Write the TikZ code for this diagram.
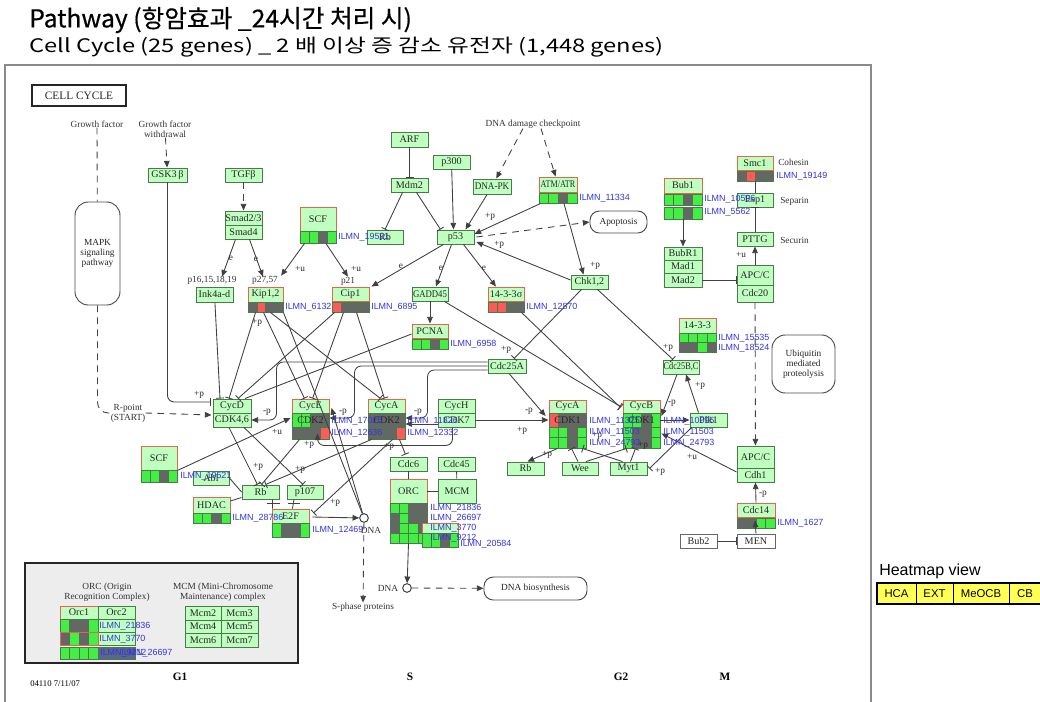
\documentclass[tikz,border=0pt]{standalone}
\usepackage{fontspec}
\setmainfont{Liberation Serif}
\newfontfamily\ilfont{Liberation Sans}
\newfontfamily\krfont{Noto Sans CJK KR}
\newfontfamily\krheavy[FakeBold=0.5]{Noto Sans CJK KR}
\usetikzlibrary{calc,arrows.meta}

\definecolor{kgfill}{HTML}{BFFFBF}
\definecolor{kgline}{HTML}{4A7A4A}
\definecolor{kgred}{HTML}{E2654F}
\definecolor{cg}{HTML}{44EE44}
\definecolor{cd}{HTML}{666666}
\definecolor{cr}{HTML}{FF5A5A}
\definecolor{cs}{HTML}{5C6490}
\definecolor{ilblue}{HTML}{3434E0}
\definecolor{conn}{HTML}{404040}
\definecolor{hmyellow}{HTML}{FFFF55}
\definecolor{framegray}{HTML}{8A8A8A}

\newcommand\kbf{\fontsize{7.6}{8}\selectfont}
\newcommand\lbf{\fontsize{7}{7.6}\selectfont}
\newcommand\ilf{\ilfont\fontsize{6.7}{7}\selectfont}
\newcommand\kgsq[2][0.86]{\scalebox{#1}[1]{#2}}

% gene box from its corners (x1,y1)-(x2,y2), pixel units, y downwards
\newcommand\kgbox[7][]{\node[kb,minimum width={(#5-#3)*0.75pt},minimum height={(#6-#4)*0.75pt},#1] (#2) at ({(#3+#5)/2},{(#4+#6)/2}) {#7};}
% row of four expression cells
\newcommand\kgcells[5]{\foreach \gc [count=\gi from 0] in {#5}{\filldraw[fill=\gc,draw=kgline,line width=0.35pt] ({#1+\gi*(#3-#1)/4},#2) rectangle ({#1+(\gi+1)*(#3-#1)/4},#4);}}
\newcounter{kgn}
\newcommand\kglab[2]{\stepcounter{kgn}\node[lb] (lb\number\value{kgn}) at (#1) {#2};}
\newcommand\kgil[2]{\stepcounter{kgn}\node[il] (il\number\value{kgn}) at (#1) {#2};}

\begin{document}
\begin{tikzpicture}[x=0.75pt,y=-0.75pt,
  kb/.style={draw=kgline,fill=kgfill,line width=0.7pt,inner sep=0pt,font=\kbf,text=black!85},
  hb/.style={kb,draw=kgred},
  wb/.style={kb,fill=white,draw=black!60},
  rb/.style={draw=black!70,line width=0.7pt,rounded corners=7pt,fill=white,inner sep=0pt,font=\lbf,align=center},
  tx/.style={inner sep=0pt,font=\lbf,align=center,text=black!80},
  lb/.style={inner sep=0pt,font=\lbf,text=black!85},
  il/.style={inner sep=0pt,font=\ilf,text=ilblue,anchor=west},
  hm/.style={draw=black,fill=hmyellow,line width=0.5pt,font=\ilfont\fontsize{8.5}{9}\selectfont,text=black},
  cn/.style={draw=conn,line width=0.65pt},
  ar/.style={cn,-{Triangle[length=5pt,width=4.2pt]}},
  dl/.style={cn,dash pattern=on 5pt off 4pt},
  dar/.style={ar,dash pattern=on 5pt off 4pt},
  inh/.style={cn,-{Bar[width=6pt]}}]

\useasboundingbox (0,0) rectangle (1040,701);
\fill[white] (0,0) rectangle (1040,701);

% ---------- headings ----------
\node[anchor=west,inner sep=0] (ttl) at (29,20) {\krheavy\fontsize{18.5}{20}\selectfont Pathway (항암효과 \_24시간 처리 시)};
\node[anchor=west,inner sep=0] (sttl) at (29,47) {\scalebox{1.27}[1]{\krfont\fontsize{14}{16}\selectfont Cell Cycle (25 genes) \_ 2 배 이상 증 감소 유전자 (1,448 genes)}};
\draw[framegray,line width=0.8pt] (5,702) -- (5,65) -- (871,65) -- (871,702);

% ---------- map frame items ----------
\kgbox[wb,draw=black!85,line width=1.4pt,font=\fontsize{8.5}{9}\selectfont]{cellc}{32}{85}{126}{106}{CELL CYCLE}
\kgbox[rb,rounded corners=10pt]{mapk}{75}{202}{120}{305}{MAPK\\signaling\\pathway}

\node[tx] (gf) at (97,124) {Growth factor};
\node[tx] (gfw) at (165,129) {Growth factor\\withdrawal};
\node[tx] (ddc) at (533,124) {DNA damage checkpoint};
\node[tx] (p16t) at (212,280) {p16,15,18,19};
\node[tx] (p27t) at (265,280) {p27,57};
\node[tx] (p21t) at (348,281) {p21};
\node[tx,anchor=west] (cohn) at (778,162) {Cohesin};
\node[tx,anchor=west] (sepn) at (780,201) {Separin};
\node[tx,anchor=west] (secn) at (780,240) {Securin};
\node[tx] (rpt) at (128,413) {R-point\\(START)};
\node[tx] (sph) at (363,607) {S-phase proteins};

% ---------- G1 ----------
\kgbox{gsk}{148}{168}{187}{182}{GSK3\,β}
\kgbox{tgf}{225}{168}{262}{182}{TGFβ}
\kgbox{smad23}{225}{211}{262}{225}{Smad2/3}
\kgbox{smad4}{225}{225}{262}{239}{Smad4}
\kgbox{ink}{196}{287}{233}{302}{Ink4a-d}
\kgbox[hb]{kip}{248}{287}{283}{302}{Kip1,2}
\kgcells{248}{302}{283}{312}{cd,cr,cd,cd}
\kgbox[hb]{scf1}{300}{207}{336}{231}{SCF}
\kgcells{300}{231}{336}{243}{cg,cg,cd,cg}
\kgbox{rb1}{367}{230}{403}{244}{Rb}
\kgbox{cycd}{213}{399}{251}{413}{CycD}
\kgbox{cdk46}{213}{413}{251}{427}{CDK4,6}
\kgbox[hb]{scf2}{141}{446}{177}{470}{SCF}
\kgcells{141}{470}{177}{482}{cg,cg,cd,cg}
\kgbox{abl}{193}{471}{229}{485}{Abl}
\kgbox{rb3}{242}{485}{279}{499}{Rb}
\kgbox{p107}{287}{485}{323}{499}{p107}
\kgbox[hb]{hdac}{193}{497}{230}{513}{HDAC}
\kgcells{193}{513}{230}{523}{cg,cg,cd,cg}
\kgbox[hb]{e2f}{272}{509}{309}{523}{E2F}
\kgcells{272}{523}{309}{537}{cg,cd,cd,cg}

% ---------- p53 module ----------
\kgbox{arf}{391}{132}{428}{147}{ARF}
\kgbox{mdm2}{391}{178}{428}{192}{Mdm2}
\kgbox{p300}{433}{155}{470}{169}{p300}
\kgbox{dnapk}{473}{179}{511}{194}{\kgsq[0.9]{DNA-PK}}
\kgbox[hb]{atm}{539}{177}{577}{192}{\kgsq[0.8]{ATM/ATR}}
\kgcells{539}{193}{577}{203}{cg,cg,cd,cg}
\kgbox{p53}{437}{230}{474}{244}{p53}
\kgbox[rb]{apop}{590}{211}{647}{233}{Apoptosis}
\kgbox{chk}{571}{275}{608}{289}{Chk1,2}
\kgbox[hb]{cip1}{332}{287}{369}{301}{Cip1}
\kgcells{332}{302}{369}{312}{cr,cd,cd,cd}
\kgbox{gadd}{412}{287}{448}{301}{\kgsq{GADD45}}
\kgbox[hb]{s1433}{488}{287}{524}{301}{14-3-3σ}
\kgcells{488}{302}{524}{312}{cr,cr,cd,cd}
\kgbox[hb]{pcna}{412}{324}{448}{338}{PCNA}
\kgcells{412}{339}{448}{349}{cg,cg,cd,cg}
\kgbox{cdc25a}{488}{359}{526}{373}{Cdc25A}

% ---------- S ----------
\kgbox[hb]{cyce}{292}{399}{329}{413}{CycE}
\kgcells{292}{413}{329}{427}{cg,cg,cd,cd}
\kgbox[fill=none]{cdk2e}{292}{413}{329}{427}{CDK2}
\kgcells{292}{427}{329}{439}{cd,cd,cd,cr}
\kgbox[hb]{cyca1}{368}{399}{405}{413}{CycA}
\kgcells{368}{413}{405}{427}{cd,cd,cd,cd}
\kgbox[fill=none]{cdk2a}{368}{413}{405}{427}{CDK2}
\kgcells{368}{427}{405}{439}{cd,cd,cd,cr}
\kgbox{cych}{438}{399}{475}{413}{CycH}
\kgbox{cdk7}{438}{413}{475}{427}{CDK7}
\kgbox{cdc6}{390}{457}{427}{471}{Cdc6}
\kgbox{cdc45}{438}{457}{475}{471}{Cdc45}
\kgbox[hb]{orc}{390}{479}{427}{503}{ORC}
\kgbox{mcm}{438}{479}{476}{503}{MCM}
\kgcells{390}{503}{427}{513}{cg,cg,cd,cd}
\kgcells{390}{513}{427}{523}{cd,cg,cd,cd}
\kgcells{390}{523}{427}{533}{cd,cg,cg,cd}
\kgcells{390}{533}{427}{543}{cg,cg,cg,cg}
\filldraw[fill=kgfill,draw=kgred,line width=0.5pt] (422,523) rectangle (458,533);
\kgcells{422}{533}{458}{547}{cg,cg,cd,cg}
\node[circle,draw=black!80,line width=0.7pt,minimum size=6.5pt,inner sep=0pt,fill=white] (dna1) at (364,518) {};
\node[tx] (dna1t) at (371,530) {DNA};
\node[circle,draw=black!80,line width=0.7pt,minimum size=6.5pt,inner sep=0pt,fill=white] (dna2) at (407,588) {};
\node[tx] (dna2t) at (388,588) {DNA};
\kgbox[rb]{dnab}{484}{577}{587}{600}{DNA biosynthesis}

% ---------- G2 ----------
\kgbox[hb]{cyca2}{549}{400}{586}{413}{CycA}
\kgcells{549}{413}{586}{427}{cr,cd,cd,cd}
\kgbox[fill=none]{cdk1a}{549}{413}{586}{427}{CDK1}
\kgcells{549}{427}{586}{437.5}{cg,cg,cd,cg}
\kgcells{549}{437.5}{586}{448}{cg,cg,cd,cg}
\kgbox[hb]{cycb}{623}{400}{660}{413}{CycB}
\kgcells{623}{413}{660}{427}{cg,cg,cd,cg}
\kgbox[fill=none]{cdk1b}{623}{413}{660}{427}{CDK1}
\kgcells{623}{427}{660}{437.5}{cg,cd,cd,cg}
\kgcells{623}{437.5}{660}{448}{cg,cd,cd,cg}
\kgbox{plk1}{690}{413}{727}{427}{Plk1}
\kgbox{rb2}{507}{462}{544}{475}{Rb}
\kgbox{wee}{562}{462}{598}{475}{Wee}
\kgbox{myt1}{610}{462}{647}{475}{Myt1}
\kgbox[hb]{y1433}{679}{318}{716}{333}{14-3-3}
\kgcells{679}{333}{716}{342.5}{cg,cg,cg,cg}
\kgcells{679}{342.5}{716}{352}{cd,cd,cg,cd}
\kgbox{cdc25bc}{663}{360}{699}{374}{\kgsq[0.82]{Cdc25B,C}}

% ---------- M ----------
\kgbox[hb]{bub1}{664}{178}{702}{193}{Bub1}
\kgcells{664}{194}{702}{205.5}{cg,cg,cd,cg}
\kgcells{664}{207}{702}{219}{cg,cg,cd,cg}
\kgbox{bubr1}{664}{247}{702}{260}{BubR1}
\kgbox{mad1}{664}{260}{702}{273}{Mad1}
\kgbox{mad2}{664}{273}{702}{287}{Mad2}
\kgbox[hb]{smc1}{737}{156}{773}{170}{Smc1}
\kgcells{737}{171}{773}{181}{cd,cr,cd,cd}
\kgbox{esp1}{737}{193}{773}{207}{Esp1}
\kgbox{pttg}{737}{232}{773}{246}{PTTG}
\kgbox{apcc1}{737}{265}{773}{285}{APC/C}
\kgbox{cdc20}{737}{285}{773}{302}{Cdc20}
\kgbox[rb,rounded corners=10pt]{ubiq}{772}{335}{835}{393}{Ubiquitin\\mediated\\proteolysis}
\kgbox{apcc2}{737}{446}{774}{468}{APC/C}
\kgbox{cdh1}{737}{468}{774}{482}{Cdh1}
\kgbox[hb]{cdc14}{737}{503}{775}{517}{Cdc14}
\kgcells{737}{518}{775}{528}{cd,cd,cg,cg}
\kgbox[wb]{men}{737}{534}{775}{548}{MEN}
\kgbox[wb]{bub2}{680}{534}{717}{548}{Bub2}

% ---------- connectors ----------
\draw[dl] (gf) -- (mapk);
\draw[dar] (gfw) -- (gsk);
\draw[inh,rounded corners=5] (gsk.south) |- ($(cycd.west)+(-2,-4)$);
\draw[dl,rounded corners=8] (mapk.south) |- (rpt.west);
\draw[dar] (rpt.east) -- ($(cdk46.west)+(-1,-5)$);
\draw[dar] (tgf) -- (smad23);
\draw[ar] ($(smad4.south)+(-8,0)$) -- ($(p16t.north)+(10,1)$);
\draw[ar] ($(smad4.south)+(6,0)$) -- ($(p27t.north)+(-2,1)$);
\draw[ar] ($(scf1.south west)+(5,12)$) -- ($(p27t.north east)+(3,0)$);
\draw[ar] ($(scf1.south)+(8,12)$) -- (p21t.north);

\draw[inh] (arf) -- (mdm2);
\draw[inh] ($(mdm2.south)+(-7,0)$) -- (rb1.north);
\draw[inh] ($(mdm2.south)+(7,0)$) -- ($(p53.north west)+(4,0)$);
\draw[ar] (p300) -- ($(p53.north)+(-2,0)$);
\draw[ar] (dnapk) -- ($(p53.north)+(10,0)$);
\draw[dar] ($(ddc.south)+(-10,0)$) -- (dnapk);
\draw[dar] ($(ddc.south)+(8,0)$) -- (atm);
\draw[ar] ($(atm.south west)+(2,11)$) -- ($(p53.east)+(0,-3)$);
\draw[dar] ($(p53.east)+(2,0)$) -- (apop.west);
\draw[ar] ($(chk.west)+(0,-2)$) -- ($(p53.east)+(2,5)$);
\draw[ar] ($(atm.south)+(6,11)$) -- ($(chk.north)+(-6,0)$);
\draw[ar] ($(p53.south)+(-12,0)$) -- ($(cip1.north east)+(2,0)$);
\draw[ar] ($(p53.south)+(-4,0)$) -- ($(gadd.north)+(6,0)$);
\draw[ar] ($(p53.south)+(8,0)$) -- ($(s1433.north)+(-10,0)$);
\draw[ar] (gadd) -- (pcna);
\draw[inh] ($(chk.south)+(-8,0)$) -- ($(cdc25a.north)+(7,0)$);
\draw[inh] ($(chk.south)+(8,0)$) -- ($(cdc25bc.north)+(-8,0)$);
\draw[inh] ($(gadd.south east)+(-4,0)$) -- ($(cycb.west)+(-2,0)$);
\draw[inh] ($(s1433.south east)+(-3,11)$) -- ($(cycb.west)+(-2,1)$);

\draw[cn] ($(pcna.west)+(0,3)$) -- ($(cycd.north)+(13,0)$);
\draw[inh] (ink) -- ($(cycd.north)+(-12,0)$);
\draw[inh] ($(kip.south)+(-10,10)$) -- ($(cycd.north)+(-3,0)$);
\draw[inh] ($(cip1.south west)+(3,11)$) -- ($(cycd.north)+(6,0)$);
\draw[inh] ($(kip.south)+(-2,10)$) -- ($(cyce.north)+(-6,0)$);
\draw[inh] ($(kip.south)+(5,10)$) -- ($(cyca1.north)+(-6,0)$);
\draw[inh] ($(cip1.south)+(-7,11)$) -- ($(cyce.north)+(2,0)$);
\draw[inh] ($(cip1.south)+(6,11)$) -- ($(cyca1.north)+(-2,0)$);
\draw[cn] ($(kip.south east)+(0,10)$) -- (dna1);

\draw[ar,rounded corners=5] ($(cdc25a.west)+(0,-4)$) -- ($(cdc25a.west)+(-211,-4)$) |- (cdk46.east);
\draw[ar,rounded corners=5] (cdc25a.west) -- ($(cdc25a.west)+(-133,0)$) |- ($(cdk2e.east)+(0,-2)$);
\draw[ar,rounded corners=5] ($(cdc25a.west)+(0,4)$) -- ($(cdc25a.west)+(-60,4)$) |- ($(cdk2a.east)+(0,-2)$);
\draw[ar] ($(cdc25a.south)+(2,0)$) -- ($(cdk1a.west)+(-3,-4)$);
\draw[ar] (cdk7.east) -- (cdk1a.west);
\draw[ar] ($(cdk7.west)+(0,4)$) -- ($(cdk2a.east)+(0,4)$);
\draw[ar,rounded corners=5] ($(cdk7.south)+(-4,0)$) -- ++(0,18) -| ($(cdk2e.south west)+(26,6)$);

\draw[ar] (scf2.south east) -- ($(cdk2e.west)+(-1,-2)$);
\draw[inh] ($(cdk46.south)+(-3,0)$) -- ($(rb3.north)+(-3,0)$);
\draw[inh] ($(cdk46.south)+(12,0)$) -- ($(p107.north)+(-2,0)$);
\draw[inh] ($(cdk2e.south west)+(8,12)$) -- ($(rb3.north)+(1,0)$);
\draw[inh] ($(cdk2a.south west)+(4,12)$) -- ($(rb3.north)+(5,0)$);
\draw[cn] (abl.east) -- (rb3.west);
\draw[cn] ($(hdac.east)+(0,-4)$) -- ($(rb3.south west)+(0,-2)$);
\draw[cn] ($(rb3.south)+(12,0)$) -- ($(e2f.north west)+(1,0)$);
\draw[cn] ($(rb3.south)+(6,4)$) -- ++(13,0);
\draw[cn] ($(p107.south)+(-11,0)$) -- ($(e2f.north)+(2,0)$);
\draw[cn] ($(p107.south)+(-17,4)$) -- ++(12,0);
\draw[inh] ($(cdk2a.south)+(6,12)$) -- ($(e2f.east)+(4,-3)$);
\draw[ar] ($(e2f.east)+(3,1)$) -- (dna1);
\draw[ar] (dna1) -- ($(cyce.east)+(2,2)$);
\draw[dar] (dna1) -- (sph);
\draw[inh] ($(cdk2a.south east)+(-6,12)$) -- ($(cdc6.north)+(-3,-2)$);
\draw[cn] (cdc6) -- (orc);
\draw[cn] (cdc45) -- (mcm);
\draw[cn] (orc) -- (mcm);
\draw[ar] ($(orc.south)+(0,40)$) -- (dna2);
\draw[dar] (dna2) -- (dnab);

\draw[ar] ($(cdk1a.south west)+(9,21)$) -- ($(rb2.north)+(2,0)$);
\draw[inh] ($(wee.north)+(-2,0)$) -- ($(cdk1a.south)+(4,21)$);
\draw[inh] ($(wee.north)+(6,0)$) -- ($(cdk1b.south west)+(4,21)$);
\draw[inh] ($(myt1.north)+(-6,0)$) -- ($(cdk1a.south east)+(-4,21)$);
\draw[inh] ($(myt1.north)+(2,0)$) -- ($(cdk1b.south)+(-6,21)$);
\draw[ar] ($(cdc25bc.south)+(-4,0)$) -- ($(cdk1b.east)+(1,-4)$);
\draw[ar] ($(plk1.north)+(-10,0)$) -- ($(cdc25bc.south)+(5,0)$);
\draw[inh] ($(plk1.south west)+(2,0)$) -- ($(myt1.east)+(2,0)$);
\draw[ar] ($(cdh1.west)+(0,-3)$) -- ($(cdk1b.south east)+(1,6)$);
\draw[ar] (cdk1b.east) -- (plk1.west);

\draw[ar] ($(bub1.south)+(0,26)$) -- (bubr1.north);
\draw[inh] (mad2.east) -- (mad2.east -| apcc1.west);
\draw[ar] (apcc1) -- (pttg);
\draw[inh] (pttg) -- (esp1);
\draw[cn] (esp1.north) -- ($(smc1.south)+(0,11)$);
\draw[dar] (cdc20) -- (apcc2);
\draw[ar] (cdc14.north) -- (cdh1.south);
\draw[ar] (men.north) -- ($(cdc14.south)+(-1,3)$);
\draw[inh] (bub2) -- (men);

% ---------- edge labels ----------
\kglab{199,395}{+p}
\kglab{231,258}{e}
\kglab{256,259}{e}
\kglab{300,269}{+u}
\kglab{356,269}{+u}
\kglab{490,217}{+p}
\kglab{499,245}{+p}
\kglab{595,266}{+p}
\kglab{401,266}{e}
\kglab{441,268}{e}
\kglab{484,268}{e}
\kglab{506,350}{+p}
\kglab{668,348}{+p}
\kglab{257,323}{+p}
\kglab{267,412}{-p}
\kglab{343,412}{-p}
\kglab{418,412}{-p}
\kglab{529,411}{-p}
\kglab{522,431}{+p}
\kglab{277,432}{+u}
\kglab{258,467}{+p}
\kglab{300,470}{+p}
\kglab{309,445}{+p}
\kglab{335,503}{+p}
\kglab{389,447}{+p}
\kglab{547,455}{+p}
\kglab{597,436}{+p}
\kglab{643,446}{+p}
\kglab{672,403}{-p}
\kglab{700,386}{+p}
\kglab{660,472}{+p}
\kglab{692,457}{+u}
\kglab{741,255}{+u}
\kglab{763,494}{-p}

% ---------- probe labels ----------
\kgil{338,237}{ILMN\_19521}
\kgil{579,198}{ILMN\_11334}
\kgil{285,307}{ILMN\_6132}
\kgil{371,307}{ILMN\_6895}
\kgil{526,307}{ILMN\_12870}
\kgil{450,344}{ILMN\_6958}
\kgil{704,199}{ILMN\_10596}
\kgil{704,212}{ILMN\_5562}
\kgil{776,176}{ILMN\_19149}
\kgil{718,338}{ILMN\_15535}
\kgil{718,348}{ILMN\_18524}
\kgil{331,421}{ILMN\_17026}
\kgil{331,433}{ILMN\_12636}
\kgil{407,421}{ILMN\_11326}
\kgil{407,433}{ILMN\_12332}
\kgil{589,421}{ILMN\_11325}
\kgil{589,432}{ILMN\_11503}
\kgil{589,443}{ILMN\_24793}
\kgil{663,421}{ILMN\_10095}
\kgil{663,432}{ILMN\_11503}
\kgil{663,443}{ILMN\_24793}
\kgil{180,476}{ILMN\_19521}
\kgil{232,518}{ILMN\_28786}
\kgil{312,530}{ILMN\_12469}
\kgil{777,523}{ILMN\_1627}
\kgil{430,508}{ILMN\_21836}
\kgil{430,518}{ILMN\_26697}
\kgil{430,528}{ILMN\_3770}
\kgil{430,538}{ILMN\_9212}
\kgil{460,544}{ILMN\_20584}

% ---------- complex legend ----------
\node[draw=black!85,line width=1.4pt,fill=black!7,minimum width={273*0.75pt},minimum height={100*0.75pt},inner sep=0pt] (lgd) at (161.5,613) {};
\node[tx] (orct) at (107,592) {ORC (Origin\\Recognition Complex)};
\node[tx] (mcmt) at (223,592) {MCM (Mini-Chromosome\\Maintenance) complex};
\kgbox[hb]{orc1}{60}{606}{98}{619}{Orc1}
\kgbox{orc2}{98}{606}{135}{619}{Orc2}
\kgbox{orc4}{98}{619}{135}{632}{}
\kgcells{60}{619}{98}{632}{cg,cd,cd,cg}
\kgbox{orc6}{98}{632}{135}{645}{}
\kgcells{60}{632}{98}{645}{cd,cg,cd,cg}
\draw[kgred,line width=0.6pt] (60,632) rectangle (98,645);
\kgcells{60}{647}{98}{659}{cg,cg,cg,cg}
\kgcells{98}{647}{135}{659}{cs,cs,cs,cs}
\kgil{99,626}{ILMN\_21836}
\kgil{99,639}{ILMN\_3770}
\kgil{100,653}{ILMN\_9212}
\kgil{121,653}{ILMN\_26697}
\kgbox{mcm2}{185}{606}{221}{620}{Mcm2}
\kgbox{mcm3}{221}{606}{258}{620}{Mcm3}
\kgbox{mcm4}{185}{620}{221}{633}{Mcm4}
\kgbox{mcm5}{221}{620}{258}{633}{Mcm5}
\kgbox{mcm6}{185}{633}{221}{647}{Mcm6}
\kgbox{mcm7}{221}{633}{258}{647}{Mcm7}

% ---------- phases ----------
\node[inner sep=0pt,font=\bfseries\fontsize{8.5}{9}\selectfont] (g1) at (180,677) {G1};
\node[inner sep=0pt,font=\bfseries\fontsize{8.5}{9}\selectfont] (sph2) at (410,677) {S};
\node[inner sep=0pt,font=\bfseries\fontsize{8.5}{9}\selectfont] (g2) at (621,677) {G2};
\node[inner sep=0pt,font=\bfseries\fontsize{8.5}{9}\selectfont] (mph) at (725,677) {M};
\node[inner sep=0pt,anchor=west,font=\fontsize{6.5}{7}\selectfont] (date) at (30,684) {04110 7/11/07};

% ---------- heatmap key ----------
\node[anchor=west,inner sep=0pt,font=\ilfont\fontsize{12}{13}\selectfont] (hmv) at (879,571) {Heatmap view};
\kgbox[hm]{hca}{877}{583}{916}{604}{HCA}
\kgbox[hm]{ext}{916}{583}{953}{604}{EXT}
\kgbox[hm]{meocb}{953}{583}{1009}{604}{MeOCB}
\kgbox[hm]{cb}{1009}{583}{1041}{604}{CB}
\draw[line width=1.6pt] (1041,583) -- (877,583) -- (877,604) -- (1041,604);
\end{tikzpicture}
\end{document}
